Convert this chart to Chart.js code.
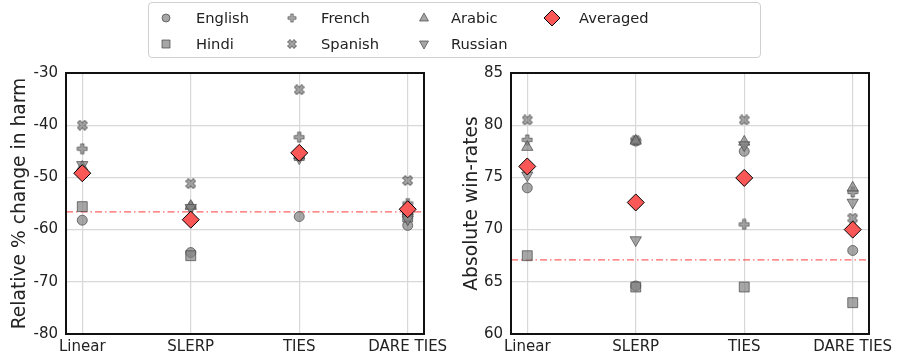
<!DOCTYPE html>
<html>
<head>
<meta charset="utf-8">
<script src="https://cdn.jsdelivr.net/npm/chart.js@4"></script>
<style>
  body { margin: 0; background: #fff; font-family: 'DejaVu Sans', sans-serif; }
  #wrap { position: relative; width: 897px; height: 358px; overflow: hidden; }
  .panel { position: absolute; top: 0; height: 358px; }
  #legend { position: absolute; left: 148px; top: 2px; width: 613px; height: 56px;
            border: 1px solid #d0d0d0; border-radius: 4px; box-sizing: border-box; }
  .item { position: absolute; font-size: 14.7px; color: #222; line-height: 18px; white-space: nowrap; }
  .icon { position: absolute; }
</style>
</head>
<body>
<div id="wrap">
  <div class="panel" style="left:0;width:458px"><canvas id="harm"></canvas></div>
  <div class="panel" style="left:448px;width:449px"><canvas id="win"></canvas></div>
  <div id="legend"></div>
</div>
<script>
const methods = ['Linear', 'SLERP', 'TIES', 'DARE TIES'];
const languages = ['English', 'Hindi', 'French', 'Spanish', 'Arabic', 'Russian'];

// relative % change in harm
const harmEnglish  = [-58.2, -64.4, -57.5, -59.2];
const harmHindi    = [-55.6, -65.0, -45.8, -57.6];
const harmFrench   = [-44.5, -55.7, -42.3, -55.0];
const harmSpanish  = [-40.0, -51.2, -33.2, -50.6];
const harmArabic   = [-48.0, -55.5, -45.8, -56.5];
const harmRussian  = [-47.6, -55.8, -46.3, -58.0];
const harmAveraged = [-49.2, -58.1, -45.3, -56.1];
const harmBaseline = -56.6;

// absolute win-rates
const winEnglish  = [74.0, 64.6, 77.5, 68.0];
const winHindi    = [67.5, 64.5, 64.5, 63.0];
const winFrench   = [78.6, 78.5, 70.5, 73.6];
const winSpanish  = [80.5, 78.5, 80.5, 71.1];
const winArabic   = [77.9, 78.5, 78.4, 74.0];
const winRussian  = [75.2, 69.0, 78.1, 72.6];
const winAveraged = [76.05, 72.6, 74.95, 70.0];
const winBaseline = 67.1;

const FONT = "'DejaVu Sans', sans-serif";
const GRAY_FILL = 'rgba(128,128,128,0.7)';
const GRAY_EDGE = 'rgba(70,70,70,0.7)';
const AVG_FILL = '#fa5757';

// filled plus / filled x markers (matplotlib 'P' and 'X')
function shapeCanvas(size, rotate) {
  const c = document.createElement('canvas');
  c.width = size + 2; c.height = size + 2;
  const ctx = c.getContext('2d');
  const h = size / 2, a = size / 6;
  ctx.translate(c.width / 2, c.height / 2);
  if (rotate) ctx.rotate(Math.PI / 4);
  const k = rotate ? 1.15 : 1;
  const pts = [[-a, -h], [a, -h], [a, -a], [h, -a], [h, a], [a, a], [a, h], [-a, h], [-a, a], [-h, a], [-h, -a], [-a, -a]];
  ctx.beginPath();
  pts.forEach((p, i) => i ? ctx.lineTo(p[0] * k, p[1] * k) : ctx.moveTo(p[0] * k, p[1] * k));
  ctx.closePath();
  ctx.fillStyle = GRAY_FILL;
  ctx.fill();
  ctx.strokeStyle = GRAY_EDGE;
  ctx.lineWidth = 1;
  ctx.stroke();
  return c;
}
const plusImg = shapeCanvas(10, false);
const xImg = shapeCanvas(9, true);

const styles = {
  English: { pointStyle: 'circle', radius: 5, rotation: 0 },
  Hindi:   { pointStyle: 'rect', radius: 7, rotation: 0 },
  French:  { pointStyle: plusImg, radius: 6, rotation: 0 },
  Spanish: { pointStyle: xImg, radius: 6, rotation: 0 },
  Arabic:  { pointStyle: 'triangle', radius: 6.5, rotation: 0 },
  Russian: { pointStyle: 'triangle', radius: 6.5, rotation: 180 }
};

function toPoints(vals) { return vals.map((v, i) => ({ x: i, y: v })); }

function buildDatasets(series, avg) {
  const ds = languages.map((name, i) => ({
    label: name,
    data: toPoints(series[i]),
    pointStyle: styles[name].pointStyle,
    pointRadius: styles[name].radius,
    pointRotation: styles[name].rotation,
    backgroundColor: GRAY_FILL,
    borderColor: GRAY_EDGE,
    borderWidth: 1,
    order: languages.length - i
  }));
  ds.push({
    label: 'Averaged',
    data: toPoints(avg),
    pointStyle: 'rectRot',
    pointRadius: 8.5,
    backgroundColor: AVG_FILL,
    borderColor: '#000',
    borderWidth: 1,
    order: 0
  });
  return ds;
}

const framePlugin = {
  id: 'frame',
  beforeDatasetsDraw(chart, args, opts) {
    const y = chart.scales.y.getPixelForValue(opts.baseline);
    const { left, right } = chart.chartArea;
    const ctx = chart.ctx;
    ctx.save();
    ctx.strokeStyle = 'rgba(255,70,70,0.85)';
    ctx.lineWidth = 1.2;
    ctx.setLineDash([7, 3, 1.5, 3]);
    ctx.beginPath();
    ctx.moveTo(left, y);
    ctx.lineTo(right, y);
    ctx.stroke();
    ctx.restore();
  },
  afterDraw(chart) {
    const { left, right, top, bottom } = chart.chartArea;
    const ctx = chart.ctx;
    ctx.save();
    ctx.strokeStyle = '#111';
    ctx.lineWidth = 2;
    ctx.strokeRect(left, top, right - left, bottom - top);
    ctx.restore();
  }
};

function makeChart(id, series, avg, baseline, yMin, yMax, yStep, yTitle, yWidth, titlePad, padRight) {
  return new Chart(id, {
    type: 'scatter',
    data: { datasets: buildDatasets(series, avg) },
    options: {
      responsive: true,
      maintainAspectRatio: false,
      animation: false,
      layout: { padding: { top: 73, right: padRight, left: 0, bottom: 0 } },
      plugins: {
        legend: { display: false },
        tooltip: { enabled: false },
        frame: { baseline: baseline }
      },
      scales: {
        x: {
          type: 'linear',
          min: -0.15,
          max: 3.15,
          afterBuildTicks: s => { s.ticks = methods.map((m, i) => ({ value: i })); },
          afterFit: s => { s.height = 24; s.paddingLeft = 0; s.paddingRight = 0; },
          ticks: {
            callback: v => methods[v],
            padding: 4,
            color: '#222',
            font: { family: FONT, size: 15 }
          },
          grid: { color: '#d8d8d8', lineWidth: 1.2, drawTicks: false },
          border: { display: false }
        },
        y: {
          min: yMin,
          max: yMax,
          afterFit: s => { s.width = yWidth; },
          ticks: {
            stepSize: yStep,
            padding: 8,
            color: '#222',
            font: { family: FONT, size: 15 }
          },
          grid: { color: '#d8d8d8', lineWidth: 1.2, drawTicks: false },
          border: { display: false },
          title: {
            display: true,
            text: yTitle,
            color: '#222',
            font: { family: FONT, size: 18.7 },
            padding: { top: titlePad, bottom: 0 }
          }
        }
      }
    },
    plugins: [framePlugin]
  });
}

makeChart('harm',
  [harmEnglish, harmHindi, harmFrench, harmSpanish, harmArabic, harmRussian], harmAveraged, harmBaseline,
  -80, -30, 10, 'Relative % change in harm', 66, 9, 34);
makeChart('win',
  [winEnglish, winHindi, winFrench, winSpanish, winArabic, winRussian], winAveraged, winBaseline,
  60, 85, 5, 'Absolute win-rates', 63, 12.5, 28);

// legend, laid out in columns like the original
const legendItems = [
  { name: 'English',  col: 0, row: 0 },
  { name: 'Hindi',    col: 0, row: 1 },
  { name: 'French',   col: 1, row: 0 },
  { name: 'Spanish',  col: 1, row: 1 },
  { name: 'Arabic',   col: 2, row: 0 },
  { name: 'Russian',  col: 2, row: 1 },
  { name: 'Averaged', col: 3, row: 0 }
];
const colIcon = [17, 143, 275, 403];
const colText = [47, 172, 302, 430];
const rowMid = [15, 41];

function drawIcon(ctx, name) {
  ctx.save();
  ctx.translate(8, 8);
  ctx.lineWidth = 1;
  ctx.fillStyle = GRAY_FILL;
  ctx.strokeStyle = GRAY_EDGE;
  ctx.beginPath();
  if (name === 'English') {
    ctx.arc(0, 0, 4, 0, Math.PI * 2);
  } else if (name === 'Hindi') {
    ctx.rect(-4, -4, 8, 8);
  } else if (name === 'Arabic') {
    ctx.moveTo(0, -5); ctx.lineTo(4.5, 3); ctx.lineTo(-4.5, 3); ctx.closePath();
  } else if (name === 'Russian') {
    ctx.moveTo(0, 5); ctx.lineTo(4.5, -3); ctx.lineTo(-4.5, -3); ctx.closePath();
  } else if (name === 'Averaged') {
    ctx.fillStyle = AVG_FILL;
    ctx.strokeStyle = '#000';
    ctx.moveTo(0, -8); ctx.lineTo(8, 0); ctx.lineTo(0, 8); ctx.lineTo(-8, 0); ctx.closePath();
  } else {
    const img = name === 'French' ? plusImg : xImg;
    const s = name === 'French' ? 0.8 : 0.85;
    ctx.drawImage(img, -img.width * s / 2, -img.height * s / 2, img.width * s, img.height * s);
    ctx.restore();
    return;
  }
  ctx.fill();
  ctx.stroke();
  ctx.restore();
}

const legend = document.getElementById('legend');
legendItems.forEach(it => {
  const c = document.createElement('canvas');
  c.width = 17; c.height = 17;
  c.className = 'icon';
  c.style.left = (colIcon[it.col] - 8.5) + 'px';
  c.style.top = (rowMid[it.row] - 8.5) + 'px';
  drawIcon(c.getContext('2d'), it.name);
  legend.appendChild(c);
  const t = document.createElement('div');
  t.className = 'item';
  t.textContent = it.name;
  t.style.left = colText[it.col] + 'px';
  t.style.top = (rowMid[it.row] - 9) + 'px';
  legend.appendChild(t);
});
</script>
</body>
</html>
